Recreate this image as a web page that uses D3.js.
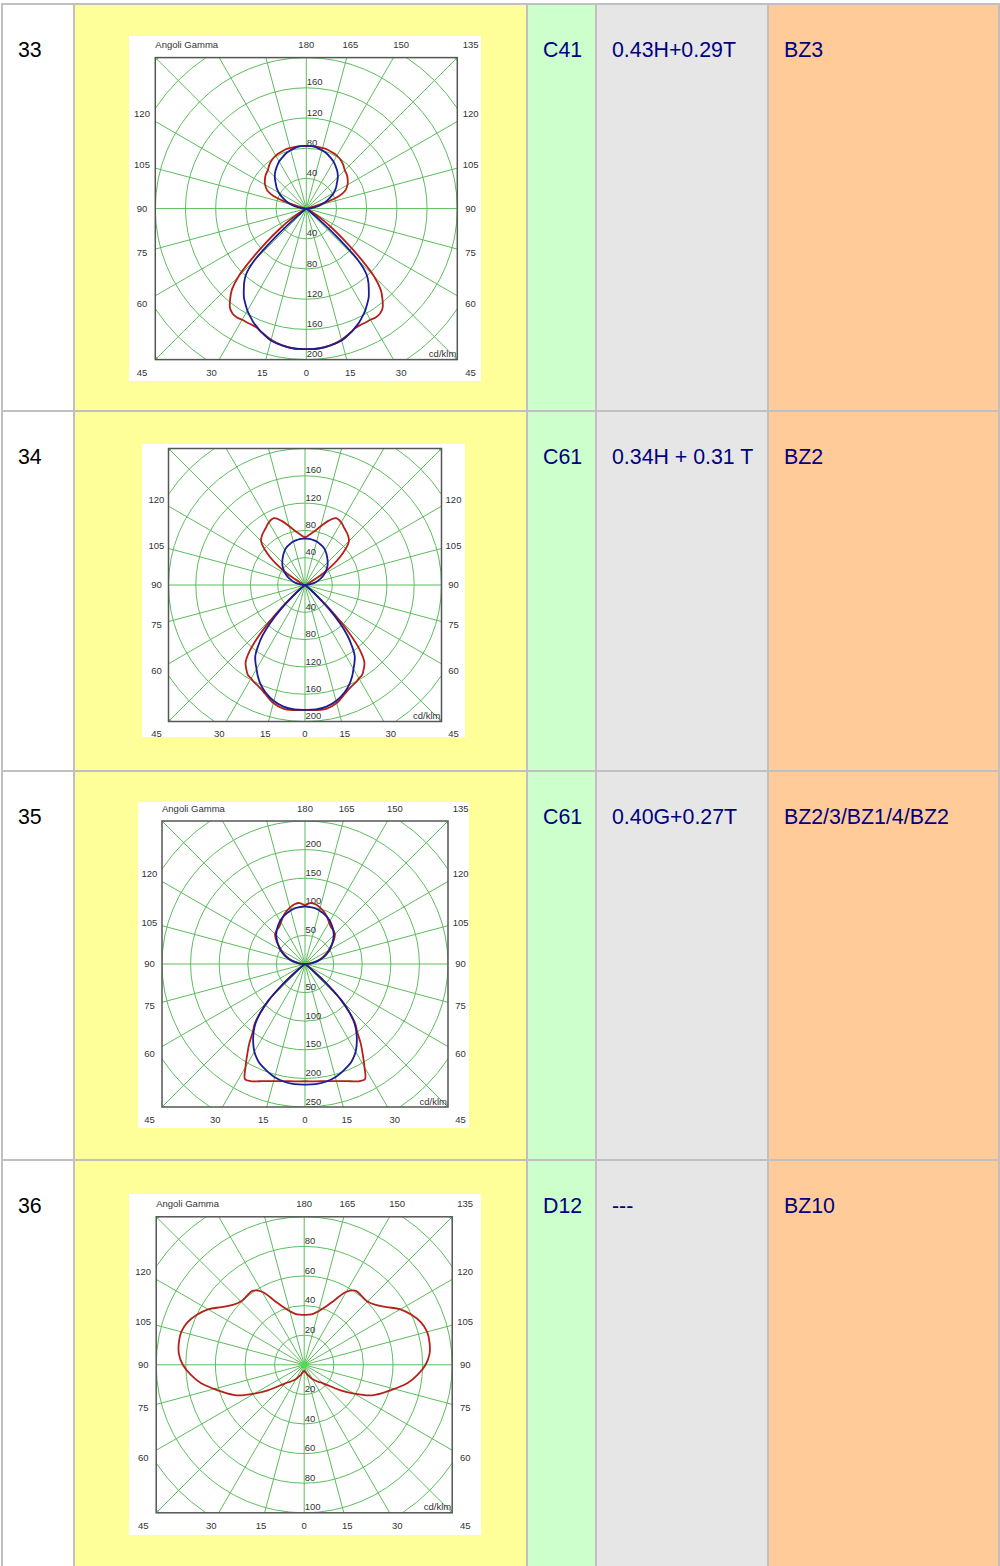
<!DOCTYPE html>
<html>
<head>
<meta charset="utf-8">
<script src="https://cdn.jsdelivr.net/npm/d3@7"></script>
<style>
  body { margin: 0; background: #fff; }
  svg { display: block; }
</style>
</head>
<body>
<script>
// ---- table content ----
var rowNumbers = ["33", "34", "35", "36"];
var lampCodes = ["C41", "C61", "C61", "D12"];
var formulas = ["0.43H+0.29T", "0.34H + 0.31 T", "0.40G+0.27T", "---"];
var bzClasses = ["BZ3", "BZ2", "BZ2/3/BZ1/4/BZ2", "BZ10"];

// ---- photometric curves, cd/klm read at these gamma angles (deg) ----
var gammaDeg = [0, 5, 10, 15, 20, 22.5, 25, 27.5, 30, 32.5, 35, 37.5, 40, 42.5, 45, 47.5, 50, 52.5, 55,
  60, 65, 70, 75, 80, 85, 90, 95, 100, 105, 110, 115, 120, 125, 130, 135, 140, 145, 150, 155, 160, 165, 170, 175, 180];

var c33Red = [186, 186, 184, 180, 174, 171, 170, 170, 170, 171, 170, 166, 157, 146, 127, 96, 68, 46, 29,
  6, 1, 0, 0, 0, 0, 0, 1, 3, 10, 42, 57, 63, 67, 70, 72, 76, 79, 81, 82, 83, 83, 83, 83, 83];
var c33Blue = [186, 186, 184, 181, 174, 170, 166, 161, 156, 150, 144, 136, 128, 118, 98, 52, 16, 4, 1,
  0, 0, 0, 0, 0, 0, 0, 7, 14, 21, 28, 35, 42, 48, 53, 59, 64, 68, 72, 75, 78, 80, 82, 83, 83];

var c34Red = [183, 184, 184, 179, 170, 166, 163, 161, 158, 156, 150, 143, 126, 97, 62, 30, 9, 2, 0,
  0, 0, 0, 0, 0, 0, 0, 0, 1, 2, 3, 5, 18, 45, 72, 91, 97, 101, 106, 108, 100, 89, 80, 74, 70];
var c34Blue = [183, 183, 181, 176, 168, 163, 157, 150, 142, 135, 127, 113, 97, 75, 50, 25, 8, 2, 0,
  0, 0, 0, 0, 0, 0, 0, 5, 11, 17, 22, 28, 33, 38, 43, 47, 51, 55, 59, 62, 64, 66, 67, 68, 68];

var c35Red = [205, 206, 208, 212, 218, 222, 226, 227, 208, 188, 170, 150, 137, 116, 90, 55, 22, 6, 1,
  0, 0, 0, 0, 0, 0, 0, 8, 15, 24, 32, 40, 48, 56, 66, 74, 77, 79, 84, 91, 97, 102, 106, 107, 103];
var c35Blue = [211, 211, 209, 205, 198, 194, 190, 184, 177, 168, 158, 147, 134, 115, 90, 55, 22, 6, 1,
  0, 0, 0, 0, 0, 0, 0, 9, 17, 26, 34, 42, 50, 57, 64, 71, 77, 82, 87, 91, 94, 97, 99, 100, 101];

var c36Red = [4, 4.5, 5, 6, 7.5, 8, 9, 10, 11, 12, 13, 14, 15, 16, 17.5, 19.5, 22, 26, 30,
  39, 49, 56, 63, 71, 77, 82, 85, 86, 86, 84, 80, 75, 68, 63, 60.5, 60.5, 61, 57, 48, 41.5, 37.5, 35, 34, 33.7];

var chartSeries = [[c33Red, c33Blue], [c34Red, c34Blue], [c35Red, c35Blue], [c36Red]];

// ---- axis ticks ----
var ringMax = [200, 200, 250, 100];
var ringStep = [40, 40, 50, 20];
var sideTicks = [120, 105, 90, 75, 60];
var bottomTicks = [-45, -30, -15, 0, 15, 30, 45];
var topTicks = [180, 165, 150, 135];

// ---- layout ----
var colX = [1, 73, 526, 595, 767, 998];
var rowY = [3, 410, 770, 1159, 1600];
var colFill = ["#ffffff", "#ffff99", "#ccffcc", "#e6e6e6", "#ffcc99"];
var bw = 2;
var chartBoxes = [
  {x: 129, y: 36, w: 352, h: 345, cx: 306.3, cy: 208.6, s: 151},
  {x: 142, y: 444, w: 323, h: 293, cx: 305, cy: 585, s: 136.5},
  {x: 138, y: 802, w: 331, h: 326, cx: 305, cy: 964, s: 143},
  {x: 129, y: 1194, w: 352, h: 341, cx: 304.2, cy: 1364.8, s: 148}
];
var seriesColor = ["#b3221a", "#1c1c94"];
var gridColor = "#5cbd5c";
var labelFont = "'Liberation Sans', Arial, sans-serif";

var svg = d3.select("body").append("svg")
    .attr("width", 1000)
    .attr("height", 1566);

var defs = svg.append("defs");

// table background = border colour, cells inset
svg.append("rect")
    .attr("x", colX[0]).attr("y", rowY[0])
    .attr("width", 1000 - colX[0]).attr("height", 1600)
    .attr("fill", "#c0c0c0");

var rows = rowNumbers.map(function(d, i) {
  return [rowNumbers[i], null, lampCodes[i], formulas[i], bzClasses[i]];
});

rows.forEach(function(row, r) {
  row.forEach(function(txt, c) {
    var x0 = colX[c] + bw, y0 = rowY[r] + bw;
    svg.append("rect")
        .attr("x", x0).attr("y", y0)
        .attr("width", colX[c + 1] - x0)
        .attr("height", rowY[r + 1] - y0)
        .attr("fill", colFill[c]);
    if (txt !== null) {
      svg.append("text")
          .attr("x", x0 + 15)
          .attr("y", y0 + 52)
          .attr("font-family", labelFont)
          .attr("font-size", "21.33px")
          .attr("fill", c === 0 ? "#000" : "#000080")
          .text(txt);
    }
  });
});

function rad(deg) { return deg * Math.PI / 180; }

chartBoxes.forEach(function(b, i) {
  var L = b.s * 1.088;
  var r = d3.scaleLinear().domain([0, ringMax[i]]).range([0, b.s]);

  defs.append("clipPath").attr("id", "img" + i)
    .append("rect").attr("x", b.x).attr("y", b.y).attr("width", b.w).attr("height", b.h);
  defs.append("clipPath").attr("id", "frm" + i)
    .append("rect").attr("x", b.cx - b.s).attr("y", b.cy - b.s).attr("width", 2 * b.s).attr("height", 2 * b.s);

  var g = svg.append("g").attr("clip-path", "url(#img" + i + ")");
  g.append("rect")
      .attr("x", b.x).attr("y", b.y).attr("width", b.w).attr("height", b.h)
      .attr("fill", "#fff");

  // grid
  var grid = g.append("g")
      .attr("clip-path", "url(#frm" + i + ")")
    .append("g")
      .attr("transform", "translate(" + b.cx + "," + b.cy + ")");
  var rings = d3.range(ringStep[i], ringMax[i] * 1.45, ringStep[i]);
  grid.selectAll("circle.ring")
    .data(rings)
    .enter().append("circle")
      .attr("class", "ring")
      .attr("r", function(v) { return r(v); })
      .attr("fill", "none")
      .attr("stroke", gridColor)
      .attr("stroke-width", 1);
  grid.selectAll("line.spoke")
    .data(d3.range(0, 360, 15))
    .enter().append("line")
      .attr("class", "spoke")
      .attr("x1", 0).attr("y1", 0)
      .attr("x2", function(a) { return b.s * 1.5 * Math.sin(rad(a)); })
      .attr("y2", function(a) { return b.s * 1.5 * Math.cos(rad(a)); })
      .attr("stroke", gridColor)
      .attr("stroke-width", 1);
  grid.append("circle").attr("r", 2.6).attr("fill", "#3ee63e");

  // frame
  g.append("rect")
      .attr("x", b.cx - b.s).attr("y", b.cy - b.s)
      .attr("width", 2 * b.s).attr("height", 2 * b.s)
      .attr("fill", "none")
      .attr("stroke", "#555")
      .attr("stroke-width", 1.5);

  // labels
  var lab = g.append("g")
      .attr("font-family", labelFont)
      .attr("font-size", "9.5px")
      .attr("fill", "#333");

  sideTicks.forEach(function(a) {
    var y = b.cy + L * Math.tan(rad(90 - a));
    [-1, 1].forEach(function(side) {
      lab.append("text")
          .attr("x", b.cx + side * L).attr("y", y).attr("dy", "0.35em")
          .attr("text-anchor", "middle")
          .text(a);
    });
  });
  bottomTicks.forEach(function(a) {
    lab.append("text")
        .attr("x", b.cx + L * Math.tan(rad(a))).attr("y", b.cy + L).attr("dy", "0.35em")
        .attr("text-anchor", "middle")
        .text(Math.abs(a));
  });
  topTicks.forEach(function(a) {
    lab.append("text")
        .attr("x", b.cx + L * Math.tan(rad(180 - a))).attr("y", b.cy - L).attr("dy", "0.35em")
        .attr("text-anchor", "middle")
        .text(a);
  });
  lab.append("text")
      .attr("x", b.cx - b.s).attr("y", b.cy - L).attr("dy", "0.35em")
      .text("Angoli Gamma");
  lab.append("text")
      .attr("x", b.cx + b.s - 1).attr("y", b.cy + b.s - 2.5)
      .attr("text-anchor", "end")
      .text("cd/klm");

  rings.filter(function(v) { return v < ringMax[i]; }).forEach(function(v) {
    lab.append("text")
        .attr("x", b.cx + 0.5).attr("y", b.cy - r(v) - 2.4)
        .text(v);
  });
  rings.filter(function(v) { return v <= ringMax[i]; }).forEach(function(v) {
    lab.append("text")
        .attr("x", b.cx + 0.5).attr("y", b.cy + r(v) - 2.4)
        .text(v);
  });

  // curves: right half C0 plane, mirrored left half
  var radial = d3.lineRadial()
      .angle(function(d) { return d[0]; })
      .radius(function(d) { return r(d[1]); })
      .curve(d3.curveCatmullRomClosed.alpha(0.5));

  function points(values) {
    var pts = [];
    gammaDeg.forEach(function(gd, k) { pts.push([Math.PI - rad(gd), values[k]]); });
    for (var k = gammaDeg.length - 2; k > 0; k--) pts.push([rad(gammaDeg[k]) - Math.PI, values[k]]);
    return pts;
  }

  g.append("g")
      .attr("transform", "translate(" + b.cx + "," + b.cy + ")")
    .selectAll("path")
    .data(chartSeries[i])
    .enter().append("path")
      .attr("d", function(d) { return radial(points(d)); })
      .attr("fill", "none")
      .attr("stroke", function(d, k) { return seriesColor[k]; })
      .attr("stroke-width", 1.8)
      .attr("stroke-linejoin", "round");
});
</script>
</body>
</html>
